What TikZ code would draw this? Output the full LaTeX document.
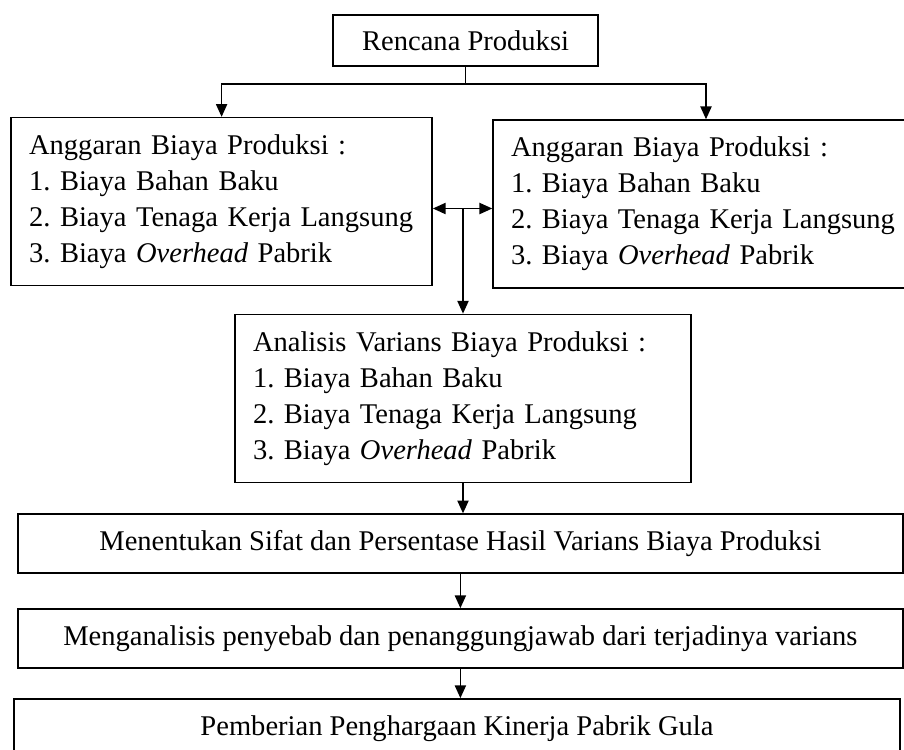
\documentclass[tikz,border=0pt]{standalone}
\usepackage{fontspec}
\setmainfont{Liberation Serif}
\usepackage{tikz}
\usetikzlibrary{arrows.meta,positioning}

\newcommand{\boxfont}{\fontsize{20.3}{25.6}\selectfont\frenchspacing}

\begin{document}
\begin{tikzpicture}[
        box/.style = {draw, line width=1.1pt, font=\boxfont, inner sep=0pt},
        listbox/.style = {box, align=left, inner xsep=0.45cm, text width=#1, minimum height=4.2cm},
        arrow/.style = {line width=1.1pt, -{Triangle[length=3.2mm,width=2.8mm]}}
        ]
        \useasboundingbox (0,0) rectangle (22.6,-18.725);

        \node[box, minimum width=6.625cm, minimum height=1.275cm] (rencana) at (11.64,-1.01) {Rencana Produksi};

        \node[listbox=9.625cm] (anggaranA) at (5.54,-5.04) {Anggaran Biaya Produksi :\\1. Biaya Bahan Baku\\2. Biaya Tenaga Kerja Langsung\\3. Biaya \textit{Overhead} Pabrik};
        \node[listbox=9.75cm] (anggaranB) at (17.65,-5.1) {Anggaran Biaya Produksi :\\1. Biaya Bahan Baku\\2. Biaya Tenaga Kerja Langsung\\3. Biaya \textit{Overhead} Pabrik};

        \node[listbox=10.5cm] (analisis) at (11.575,-9.96) {Analisis Varians Biaya Produksi :\\1. Biaya Bahan Baku\\2. Biaya Tenaga Kerja Langsung\\3. Biaya \textit{Overhead} Pabrik};

        \node[box, minimum width=22.125cm, minimum height=1.475cm] (sifat) at (11.51,-13.59) {Menentukan Sifat dan Persentase Hasil Varians Biaya Produksi};
        \node[box, minimum width=22.125cm, minimum height=1.475cm] (penyebab) at (11.51,-15.96) {Menganalisis penyebab dan penanggungjawab dari terjadinya varians};
        \node[box, minimum width=22.15cm, minimum height=1.475cm] (penghargaan) at (11.425,-18.21) {Pemberian Penghargaan Kinerja Pabrik Gula};

        % split below the plan
        \coordinate (split) at (rencana.south |- 0,-2.1);
        \draw[line width=1.1pt] (rencana.south) -- (split);
        \draw[arrow] (split) -| (anggaranA.north);
        \draw[arrow] (split) -| (anggaranB.north);

        % junction between the two budgets
        \coordinate (hub) at (11.575,-5.2125);
        \draw[arrow] (hub) -- (hub -| anggaranA.east);
        \draw[arrow] (hub) -- (hub -| anggaranB.west);
        \draw[arrow] (hub) -- (analisis.north);

        \draw[arrow] (analisis.south) -- (analisis.south |- sifat.north);
        \draw[arrow] (sifat) -- (penyebab);
        \draw[arrow] (penyebab.south) -- (penyebab.south |- penghargaan.north);
    \end{tikzpicture}
\end{document}
